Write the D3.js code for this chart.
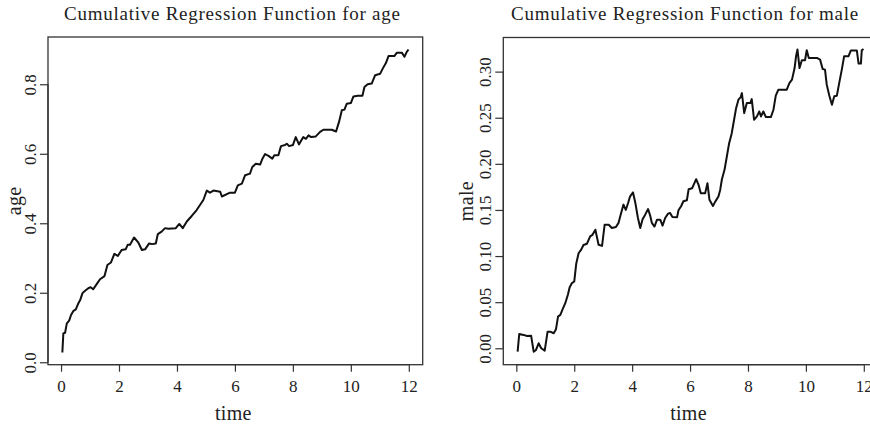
<!DOCTYPE html>
<html>
<head>
<meta charset="utf-8">
<script src="https://cdn.jsdelivr.net/npm/d3@7"></script>
<style>
  html, body { margin: 0; padding: 0; background: #fff; }
  svg { display: block; }
  text { font-family: "Liberation Serif", "Times New Roman", serif; fill: #222; }
</style>
</head>
<body>
<svg id="chart" width="870" height="426"></svg>
<script>
// ---- data ----
const ageTime = [0.045,0.08,0.14,0.2,0.28,0.345,0.43,0.51,0.6,0.66,0.74,0.83,0.94,1.02,1.11,1.23,1.345,1.5,1.6,1.72,1.84,1.96,2.09,2.23,2.3,2.38,2.52,2.67,2.79,2.9,3.04,3.15,3.27,3.34,3.47,3.59,3.7,3.82,3.96,4.08,4.2,4.34,4.51,4.68,4.91,5.03,5.14,5.26,5.49,5.55,5.83,6.0,6.1,6.24,6.35,6.52,6.6,6.72,6.87,6.95,7.04,7.16,7.29,7.36,7.5,7.59,7.73,7.79,7.87,8.0,8.1,8.21,8.36,8.45,8.54,8.63,8.79,8.94,9.05,9.34,9.49,9.59,9.69,9.78,9.86,10.0,10.09,10.24,10.4,10.47,10.58,10.72,10.84,11.01,11.1,11.21,11.3,11.5,11.59,11.76,11.85,11.93,11.99];
const ageValue = [0.028,0.083,0.085,0.112,0.12,0.136,0.148,0.152,0.17,0.179,0.199,0.206,0.213,0.216,0.21,0.225,0.239,0.248,0.28,0.287,0.312,0.306,0.323,0.325,0.338,0.338,0.359,0.344,0.323,0.325,0.342,0.34,0.342,0.369,0.376,0.386,0.384,0.385,0.386,0.398,0.386,0.405,0.421,0.438,0.467,0.494,0.488,0.494,0.491,0.477,0.488,0.488,0.509,0.514,0.538,0.543,0.562,0.571,0.569,0.586,0.599,0.594,0.586,0.596,0.596,0.622,0.625,0.629,0.622,0.625,0.648,0.627,0.648,0.643,0.653,0.648,0.65,0.663,0.669,0.669,0.664,0.691,0.725,0.727,0.744,0.746,0.765,0.767,0.767,0.792,0.8,0.802,0.826,0.83,0.845,0.861,0.881,0.881,0.891,0.891,0.879,0.893,0.9];

const maleTime = [0.045,0.1,0.25,0.37,0.51,0.6,0.68,0.77,0.86,0.98,1.08,1.17,1.29,1.37,1.44,1.52,1.6,1.69,1.78,1.84,1.92,2.0,2.07,2.15,2.24,2.32,2.44,2.55,2.63,2.73,2.84,2.96,3.05,3.19,3.3,3.44,3.53,3.62,3.7,3.78,3.86,3.93,4.03,4.11,4.2,4.28,4.36,4.45,4.55,4.63,4.68,4.77,4.86,4.97,5.05,5.14,5.24,5.31,5.39,5.55,5.6,5.69,5.77,5.89,5.95,6.07,6.15,6.21,6.29,6.37,6.52,6.6,6.67,6.79,6.87,6.98,7.04,7.1,7.19,7.27,7.35,7.44,7.52,7.59,7.67,7.75,7.79,7.87,7.96,8.08,8.13,8.21,8.31,8.39,8.45,8.53,8.62,8.79,8.88,8.96,9.05,9.34,9.43,9.52,9.61,9.66,9.71,9.78,9.86,9.97,10.03,10.1,10.38,10.49,10.58,10.66,10.72,10.81,10.9,10.98,11.07,11.15,11.24,11.32,11.47,11.55,11.76,11.82,11.9,11.93,11.99];
const maleValue = [-0.0037,0.0155,0.0145,0.0134,0.0137,-0.0037,-0.0018,0.0054,0.0,-0.0026,0.018,0.018,0.0163,0.0207,0.0343,0.0362,0.0424,0.0489,0.058,0.066,0.0707,0.0724,0.092,0.103,0.107,0.112,0.1134,0.1213,0.123,0.1286,0.1123,0.111,0.134,0.134,0.1304,0.1315,0.136,0.1467,0.1558,0.15,0.1576,0.1648,0.169,0.1576,0.1413,0.1304,0.14,0.1449,0.151,0.143,0.136,0.132,0.1395,0.1395,0.133,0.1413,0.146,0.1467,0.1424,0.142,0.1496,0.154,0.1594,0.1605,0.1724,0.1735,0.179,0.1833,0.1775,0.168,0.168,0.179,0.161,0.1543,0.159,0.1645,0.1717,0.1833,0.1935,0.208,0.2224,0.2333,0.2478,0.2604,0.2696,0.2724,0.2767,0.255,0.2659,0.2659,0.2702,0.2478,0.2514,0.2568,0.2514,0.2568,0.2507,0.2507,0.2587,0.2739,0.2804,0.2804,0.2876,0.2913,0.3039,0.3166,0.3239,0.3039,0.3123,0.3123,0.3232,0.3148,0.3148,0.313,0.3029,0.3022,0.2859,0.2739,0.2641,0.2732,0.2739,0.2876,0.3022,0.3166,0.3166,0.3228,0.3228,0.3087,0.3087,0.3232,0.3246];

const timeTicks = [0, 2, 4, 6, 8, 10, 12];
const ageTicks = [0.0, 0.2, 0.4, 0.6, 0.8];
const ageTickLabels = ["0.0", "0.2", "0.4", "0.6", "0.8"];
const maleTicks = [0.00, 0.05, 0.10, 0.15, 0.20, 0.25, 0.30];
const maleTickLabels = ["0.00", "0.05", "0.10", "0.15", "0.20", "0.25", "0.30"];

const titles = ["Cumulative Regression Function for age", "Cumulative Regression Function for male"];
const xLabel = "time";
const yLabels = ["age", "male"];

// ---- drawing ----
const svg = d3.select("#chart");

const panels = [
  { left: 48, right: 422.7, top: 37, bottom: 364.7, xDomain: [-0.45, 12.48], yDomain: [-0.007, 0.936],
    t: ageTime, v: ageValue, ticks: ageTicks, labels: ageTickLabels, title: titles[0], ylab: yLabels[0],
    titleShift: -3, ylabOffset: 27 },
  { left: 503.3, right: 877.7, top: 37.5, bottom: 364.7, xDomain: [-0.45, 12.48], yDomain: [-0.0178, 0.337],
    t: maleTime, v: maleValue, ticks: maleTicks, labels: maleTickLabels, title: titles[1], ylab: yLabels[1],
    titleShift: -5.5, ylabOffset: 30 }
];

panels.forEach(p => {
  const g = svg.append("g");
  const x = d3.scaleLinear().domain(p.xDomain).range([p.left, p.right]);
  const y = d3.scaleLinear().domain(p.yDomain).range([p.bottom, p.top]);

  // plot box
  g.append("rect")
    .attr("x", p.left).attr("y", p.top)
    .attr("width", p.right - p.left).attr("height", p.bottom - p.top)
    .attr("fill", "none").attr("stroke", "#333").attr("stroke-width", 1.3);

  // x axis
  const xa = g.append("g").attr("transform", `translate(0,${p.bottom})`)
    .call(d3.axisBottom(x).tickValues(timeTicks).tickFormat(d3.format("d")).tickSize(7).tickPadding(8));
  xa.select(".domain").attr("stroke", "#333").attr("stroke-width", 1.3)
    .attr("d", `M${x(timeTicks[0])},0H${x(timeTicks[timeTicks.length-1])}`);
  xa.selectAll(".tick line").attr("stroke", "#333").attr("stroke-width", 1.2);
  xa.selectAll(".tick text").attr("font-size", 17).attr("font-family", "Liberation Serif").attr("fill", "#333");

  // y axis
  const ya = g.append("g").attr("transform", `translate(${p.left},0)`)
    .call(d3.axisLeft(y).tickValues(p.ticks).tickFormat((d, i) => p.labels[i]).tickSize(8).tickPadding(0));
  ya.select(".domain").attr("stroke", "#333").attr("stroke-width", 1.3)
    .attr("d", `M0,${y(p.ticks[0])}V${y(p.ticks[p.ticks.length-1])}`);
  ya.selectAll(".tick line").attr("stroke", "#333").attr("stroke-width", 1.2);
  ya.selectAll(".tick text")
    .attr("font-size", 17).attr("font-family", "Liberation Serif").attr("fill", "#333")
    .attr("x", 0).attr("dy", null)
    .attr("text-anchor", "middle")
    .attr("transform", "translate(-12,0) rotate(-90)");

  // curve
  const pts = p.t.map((t, i) => [t, p.v[i]]);
  g.append("path")
    .datum(pts)
    .attr("fill", "none").attr("stroke", "#111").attr("stroke-width", 2)
    .attr("stroke-linejoin", "round")
    .attr("d", d3.line().x(d => x(d[0])).y(d => y(d[1])));

  // title
  g.append("text")
    .attr("x", (p.left + p.right) / 2 + p.titleShift).attr("y", 19.5)
    .attr("text-anchor", "middle").attr("font-size", 19).attr("letter-spacing", 0.75)
    .text(p.title);

  // x label
  g.append("text")
    .attr("x", (p.left + p.right) / 2 - 2).attr("y", 420)
    .attr("text-anchor", "middle").attr("font-size", 20).attr("letter-spacing", 0.3)
    .text(xLabel);

  // y label
  g.append("text")
    .attr("transform", `translate(${p.left - p.ylabOffset},${(p.top + p.bottom) / 2}) rotate(-90)`)
    .attr("text-anchor", "middle").attr("font-size", 20).attr("letter-spacing", 0.3)
    .text(p.ylab);
});
</script>
</body>
</html>
